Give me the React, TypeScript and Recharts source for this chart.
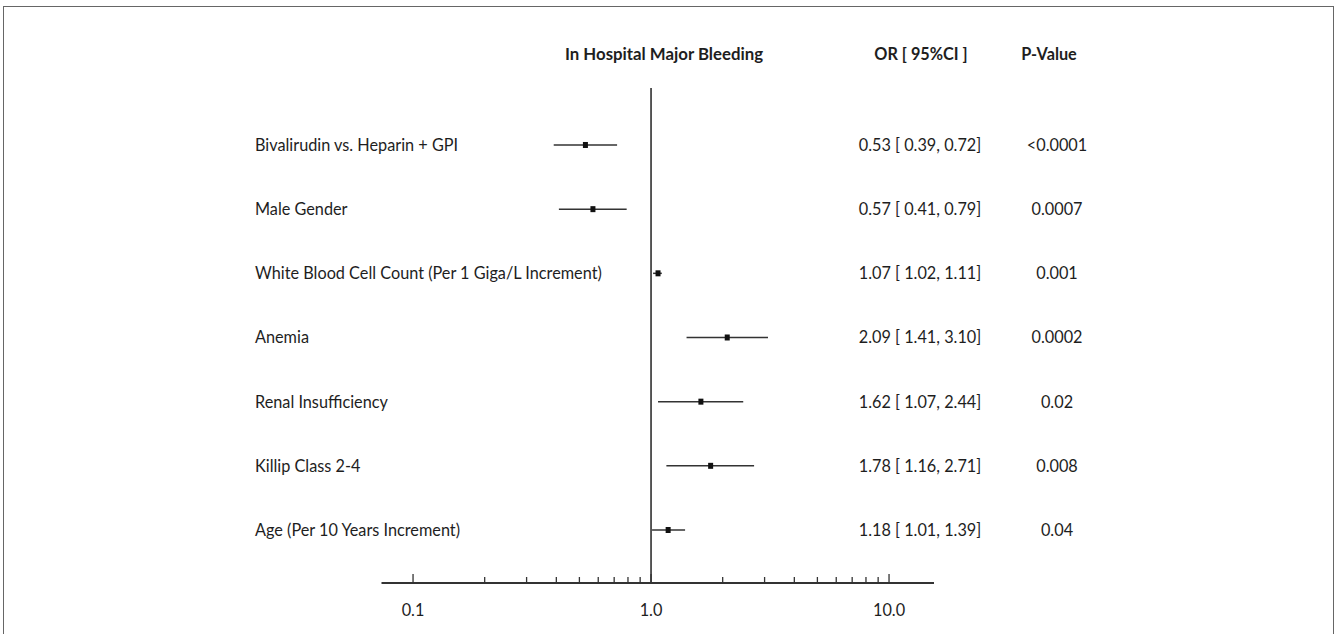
import React from "react";
import { ScatterChart, Scatter, XAxis, YAxis, ReferenceLine } from "recharts";

const rowLabels = [
  "Bivalirudin vs. Heparin + GPI",
  "Male Gender",
  "White Blood Cell Count (Per 1 Giga/L Increment)",
  "Anemia",
  "Renal Insufficiency",
  "Killip Class 2-4",
  "Age (Per 10 Years Increment)",
];
const orValues = [0.53, 0.57, 1.07, 2.09, 1.62, 1.78, 1.18];
const ciLow = [0.39, 0.41, 1.02, 1.41, 1.07, 1.16, 1.01];
const ciHigh = [0.72, 0.79, 1.11, 3.1, 2.44, 2.71, 1.39];
const orText = [
  "0.53 [ 0.39, 0.72]",
  "0.57 [ 0.41, 0.79]",
  "1.07 [ 1.02, 1.11]",
  "2.09 [ 1.41, 3.10]",
  "1.62 [ 1.07, 2.44]",
  "1.78 [ 1.16, 2.71]",
  "1.18 [ 1.01, 1.39]",
];
const pValues = ["<0.0001", "0.0007", "0.001", "0.0002", "0.02", "0.008", "0.04"];
const tickValues = [0.1, 0.2, 0.3, 0.4, 0.5, 0.6, 0.7, 0.8, 0.9, 1, 2, 3, 4, 5, 6, 7, 8, 9, 10];
const majorTicks = [0.1, 1, 10];
const majorTickLabels = ["0.1", "1.0", "10.0"];
const headerTitle = "In Hospital Major Bleeding";
const headerOR = "OR [ 95%CI ]";
const headerP = "P-Value";

const data = rowLabels.map((label, i) => ({
  label,
  or: orValues[i],
  lo: ciLow[i],
  hi: ciHigh[i],
  orText: orText[i],
  p: pValues[i],
  row: rowLabels.length - i,
}));

const FONT = "Lato, 'Noto Sans', sans-serif";
const TEXT = "#1e1e1e";
const FS = 17.5;
const SX = 0.93;

const T = ({ x, y, anchor, children, bold, sx }: any) => (
  <text
    transform={`translate(${x} ${y}) scale(${sx || SX} 1)`}
    textAnchor={anchor || "start"}
    fontFamily={FONT}
    fontSize={FS}
    fontWeight={bold ? 700 : 400}
    fill={TEXT}
  >
    {children}
  </text>
);

const RowShape = (props: any) => {
  const { cx, cy, payload } = props;
  const by = cy + 6;
  return (
    <g>
      <rect x={cx - 2.5} y={cy - 3} width={5} height={6} fill="#111" />
      <T x={255} y={by}>{payload.label}</T>
      <T x={920} y={by} anchor="middle">{payload.orText}</T>
      <T x={1057} y={by} anchor="middle">{payload.p}</T>
    </g>
  );
};

const AxisTick = (props: any) => {
  const { x, y, payload } = props;
  const v = payload.value;
  const mi = majorTicks.findIndex((m) => Math.abs(m - v) < 1e-9);
  const isMajor = mi >= 0;
  return (
    <g>
      <line x1={x} x2={x} y1={y} y2={y - (isMajor ? 9 : 6)} stroke="#333" strokeWidth={1.3} />
      {isMajor && (
        <T x={x} y={y + 33} anchor="middle">{majorTickLabels[mi]}</T>
      )}
    </g>
  );
};

export default function App() {
  return (
    <div style={{ position: "absolute", left: 0, top: 0, width: 1342, height: 634, background: "#fff", overflow: "hidden" }}>
      <div
        style={{
          position: "absolute",
          left: 3,
          top: 6,
          width: 1331,
          height: 700,
          border: "1.3px solid #666",
          boxSizing: "border-box",
        }}
      />
      <svg width={1342} height={80} style={{ position: "absolute", left: 0, top: 0 }}>
        <T x={664} y={59.5} anchor="middle" bold sx={0.96}>{headerTitle}</T>
        <T x={921} y={59.5} anchor="middle" bold>{headerOR}</T>
        <T x={1049} y={59.5} anchor="middle" bold>{headerP}</T>
      </svg>
      <div style={{ position: "absolute", left: 0, top: 0 }}>
        <ScatterChart width={1342} height={634} margin={{ top: 88, right: 408, bottom: 21, left: 381.5 }}>
          <XAxis
            type="number"
            dataKey="or"
            scale="log"
            domain={[0.0737, 15.45]}
            ticks={tickValues}
            tickLine={false}
            tickSize={0}
            tickMargin={0}
            height={30}
            axisLine={{ stroke: "#333", strokeWidth: 2 }}
            tick={<AxisTick />}
            interval={0}
          />
          <YAxis type="number" dataKey="row" domain={[0.174, 7.888]} hide />
          <ReferenceLine x={1} stroke="#222" strokeWidth={1.5} ifOverflow="visible" />
          {data.map((d) => (
            <ReferenceLine
              key={d.label}
              segment={[
                { x: d.lo, y: d.row },
                { x: d.hi, y: d.row },
              ]}
              stroke="#333"
              strokeWidth={1.5}
              ifOverflow="visible"
            />
          ))}
          <Scatter data={data} shape={<RowShape />} isAnimationActive={false} />
        </ScatterChart>
      </div>
    </div>
  );
}
